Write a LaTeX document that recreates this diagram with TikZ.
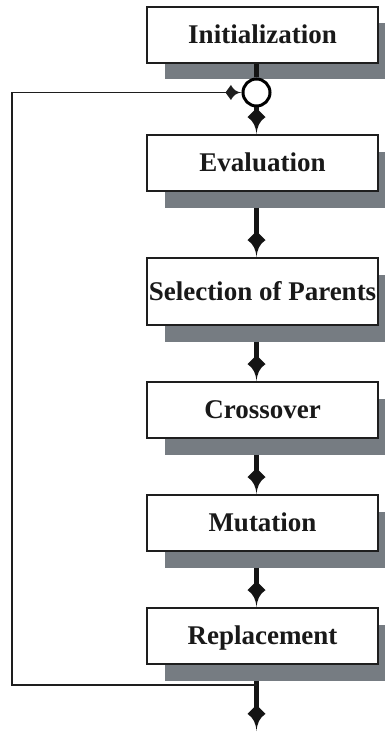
\documentclass[tikz,border=0pt]{standalone}
\usepackage{fontspec}
\setmainfont{Liberation Serif}
\usetikzlibrary{arrows.meta,positioning}
\definecolor{shadowgray}{RGB}{118,124,130}
\definecolor{inkline}{RGB}{30,30,30}

% dart-shaped tip: concave front edges, barbs swept back onto the shaft
\pgfdeclarearrow{
  name = Dart,
  defaults = {length=24pt, width=17pt},
  parameters = {\the\pgfarrowlength,\the\pgfarrowwidth},
  setup code = {
    \pgfarrowssettipend{0pt}
    \pgfarrowssetlineend{-.6\pgfarrowlength}
    \pgfarrowssetbackend{-\pgfarrowlength}
    \pgfarrowshullpoint{0pt}{0pt}
    \pgfarrowshullpoint{-\pgfarrowlength}{.5\pgfarrowwidth}
    \pgfarrowshullpoint{-\pgfarrowlength}{-.5\pgfarrowwidth}
    \pgfarrowssavethe\pgfarrowlength
    \pgfarrowssavethe\pgfarrowwidth
  },
  drawing code = {
    \pgfpathmoveto{\pgfqpoint{0pt}{0pt}}
    \pgfpathcurveto{\pgfpoint{-.3\pgfarrowlength}{.04\pgfarrowwidth}}
                   {\pgfpoint{-.5\pgfarrowlength}{.16\pgfarrowwidth}}
                   {\pgfpoint{-.66\pgfarrowlength}{.5\pgfarrowwidth}}
    \pgfpathlineto{\pgfpoint{-\pgfarrowlength}{0pt}}
    \pgfpathlineto{\pgfpoint{-.66\pgfarrowlength}{-.5\pgfarrowwidth}}
    \pgfpathcurveto{\pgfpoint{-.5\pgfarrowlength}{-.16\pgfarrowwidth}}
                   {\pgfpoint{-.3\pgfarrowlength}{-.04\pgfarrowwidth}}
                   {\pgfqpoint{0pt}{0pt}}
    \pgfpathclose
    \pgfusepathqfill
  }
}

\begin{document}
\begin{tikzpicture}[x=1pt,y=-1pt,
  stepbox/.style={draw=inkline,line width=1.5pt,fill=white,rectangle,
    minimum width=231pt,minimum height=56pt,inner sep=0pt,
    font=\fontsize{27}{31}\selectfont\bfseries,text=black!90,
    text height=17.5pt,text depth=0pt},
  shadowbox/.style={fill=shadowgray,rectangle,inner sep=0pt,
    minimum width=231pt,minimum height=56pt},
  flow/.style={line width=4.5pt,draw=black!92,
    -{Dart[length=26pt,width=18pt]}},
  loopline/.style={line width=1.8pt,draw=inkline},
  junction/.style={circle,draw=black,line width=3pt,fill=white,
    minimum size=27pt,inner sep=0pt}
]
\useasboundingbox (0,0) rectangle (385,733);
\clip (0,0) rectangle (385,733);

% drop shadows behind the boxes
\node[shadowbox] (sh1) at (280.5,51.5) {};
\node[shadowbox] (sh2) at (280.5,179.5) {};
\node[shadowbox,minimum height=67pt] (sh3) at (280.5,308) {};
\node[shadowbox] (sh4) at (280.5,426.5) {};
\node[shadowbox] (sh5) at (280.5,539.5) {};
\node[shadowbox] (sh6) at (280.5,652.5) {};

% process steps
\node[stepbox] (b1) at (262.5,35) {Initialization};
\node[stepbox] (b2) at (262.5,163) {Evaluation};
\node[stepbox,minimum height=67pt] (b3) at (262.5,291.5) {Selection of Parents};
\node[stepbox] (b4) at (262.5,410) {Crossover};
\node[stepbox] (b5) at (262.5,523) {Mutation};
\node[stepbox] (b6) at (262.5,636) {Replacement};

% column of the main flow and the loop-back junction
\coordinate (col) at (256.5,0);
\node[junction] (j) at (256.5,92.5) {};
\coordinate (out) at (256.5,731);
\coordinate (tap) at (256.5,685);
\coordinate (corner1) at (12,685);
\coordinate (corner2) at (12,92.5);

% main flow
\draw[line width=4.5pt,draw=black!92] (b1.south -| col) -- (j.north);
\draw[flow] (j.south) -- (b2.north -| col);
\draw[flow] (sh2.south -| col) -- (b3.north -| col);
\draw[flow] (sh3.south -| col) -- (b4.north -| col);
\draw[flow] (sh4.south -| col) -- (b5.north -| col);
\draw[flow] (sh5.south -| col) -- (b6.north -| col);
\draw[flow] (sh6.south -| col) -- (out);

% loop back to the junction
\draw[loopline,-{Dart[length=16pt,width=15pt]}]
  (tap) -- (corner1) -- (corner2) -- (j.west);
\end{tikzpicture}
\end{document}
